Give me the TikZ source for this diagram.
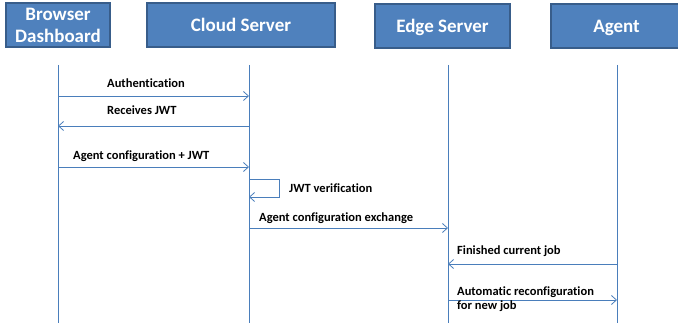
\documentclass[tikz,border=0pt]{standalone}
\usepackage{fontspec}
\setmainfont{Carlito}[RawFeature=-liga]
\usetikzlibrary{arrows.meta}
\definecolor{hdrfill}{HTML}{4F81BD}
\definecolor{hdrline}{HTML}{385D8A}
\definecolor{lifeline}{HTML}{4A7EBB}
\tikzset{
  header/.style={draw=hdrline, line width=1.4pt, fill=hdrfill, text=white,
    font=\fontsize{19}{22}\selectfont\bfseries, align=center, inner sep=0pt},
  oneline/.style={text height=15.5pt, text depth=2pt},
  lline/.style={draw=lifeline, line width=0.8pt},
  msg/.style={draw=lifeline, line width=0.8pt,
    -{Straight Barb[length=5pt,width=9pt,line width=0.8pt]}},
  msglabel/.style={anchor=base west, inner sep=0pt,
    font=\fontsize{12.5}{14}\selectfont\bfseries, align=left}
}
\begin{document}
\begin{tikzpicture}[x=1pt,y=-1pt]
\useasboundingbox (0,0) rectangle (678,323);

% participant headers
\node[header, minimum width=104pt, minimum height=44pt] (bd) at (58,25) {Browser\\Dashboard};
\node[header, oneline, minimum width=188pt, minimum height=44pt] (cs) at (241,25) {Cloud Server};
\node[header, oneline, minimum width=135pt, minimum height=44pt] (es) at (442.5,26) {Edge Server};
\node[header, oneline, minimum width=131pt, minimum height=44pt] (ag) at (616.5,26) {Agent};

% lifelines
\coordinate (bdT) at (58,65);  \coordinate (bdB) at (58,323);
\coordinate (csT) at (249,65); \coordinate (csB) at (249,323);
\coordinate (esT) at (448,65); \coordinate (esB) at (448,323);
\coordinate (agT) at (617,65); \coordinate (agB) at (617,323);
\draw[lline] (bdT) -- (bdB);
\draw[lline] (csT) -- (csB);
\draw[lline] (esT) -- (esB);
\draw[lline] (agT) -- (agB);

% message end points
\coordinate (m1a) at (58,96);   \coordinate (m1b) at (249,96);
\coordinate (m2a) at (249,126); \coordinate (m2b) at (58,126);
\coordinate (m3a) at (58,167);  \coordinate (m3b) at (249,167);
\coordinate (m4a) at (249,179); \coordinate (m4c) at (279,179);
\coordinate (m4d) at (279,197); \coordinate (m4b) at (249,197);
\coordinate (m5a) at (249,228); \coordinate (m5b) at (448,228);
\coordinate (m6a) at (617,264); \coordinate (m6b) at (448,264);
\coordinate (m7a) at (448,300); \coordinate (m7b) at (617,300);

% messages
\draw[msg] (m1a) -- (m1b);
\draw[msg] (m2a) -- (m2b);
\draw[msg] (m3a) -- (m3b);
\draw[msg] (m4a) -- (m4c) -- (m4d) -- (m4b);
\draw[msg] (m5a) -- (m5b);
\draw[msg] (m6a) -- (m6b);
\draw[msg] (m7a) -- (m7b);

% message labels (base anchor of the two-line label is its last line)
\node[msglabel] (l1) at (107,88) {Authentication};
\node[msglabel] (l2) at (107,115) {Receives JWT};
\node[msglabel] (l3) at (73,160) {Agent configuration + JWT};
\node[msglabel] (l4) at (289,193) {JWT verification};
\node[msglabel] (l5) at (259,222) {Agent configuration exchange};
\node[msglabel] (l6) at (457,255) {Finished current job};
\node[msglabel] (l7) at (457,310) {Automatic reconfiguration\\for new job};
\end{tikzpicture}
\end{document}
